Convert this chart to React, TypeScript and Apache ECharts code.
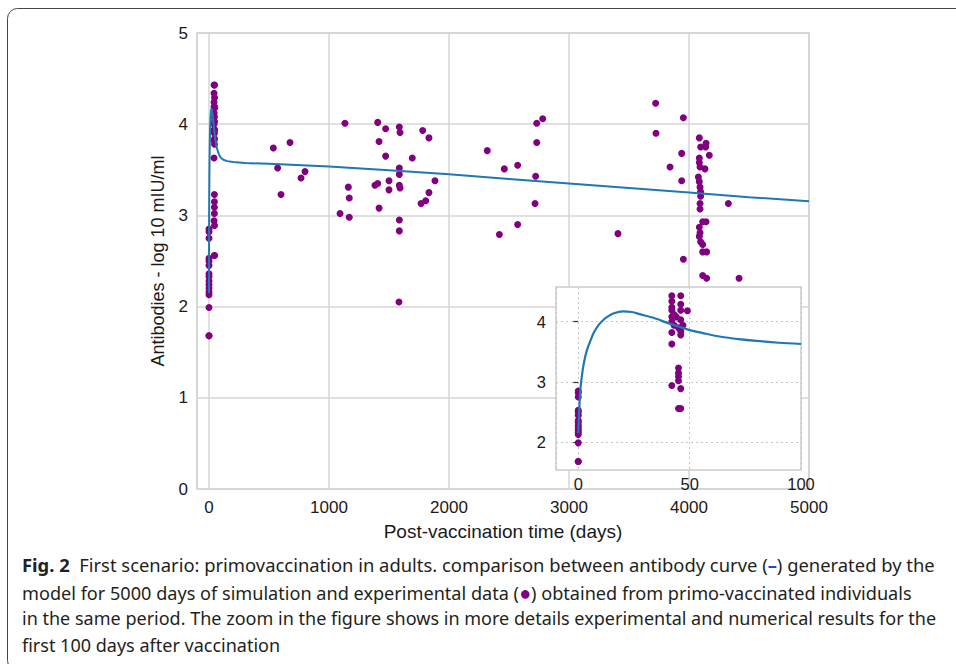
import React, { useEffect, useRef } from "react";
import * as echarts from "echarts";

// Experimental data: day after vaccination, antibody level (log10 mIU/ml)
const pointDays = [
  0, 0, 0, 0, 0, 0, 0, 0, 0, 0, 0, 0, 0, 0, 0, 0,
  42, 46, 42, 46, 42, 42, 46, 49, 43, 42, 44, 46, 42, 43, 47, 45, 46, 42, 46, 42,
  45, 45, 45, 45, 42, 46, 45, 46,
  536, 572, 600, 675, 767, 800,
  1092, 1133, 1161, 1169, 1169,
  1383, 1406, 1406, 1417, 1417, 1472, 1472, 1500, 1500,
  1586, 1592, 1586, 1586, 1586, 1592, 1586, 1586, 1583,
  1694, 1781, 1833, 1883, 1833, 1767, 1806,
  2319, 2420, 2461, 2572, 2572, 2717, 2722, 2731, 2731, 2781,
  3408, 3722, 3725, 3842, 3939, 3939, 3953, 3953, 4328, 4417,
  4086, 4142, 4097, 4139, 4169, 4086, 4086, 4092, 4133, 4078, 4086, 4092, 4097, 4097,
  4092, 4092, 4114, 4142, 4086, 4092, 4086, 4097, 4114, 4114, 4147, 4114, 4147,
];
const pointValues = [
  1.68, 1.68, 1.99, 2.13, 2.16, 2.2, 2.24, 2.28, 2.33, 2.36, 2.45, 2.5, 2.53, 2.75, 2.82, 2.85,
  4.43, 4.43, 4.34, 4.29, 4.24, 4.19, 4.19, 4.18, 4.12, 4.08, 4.08, 4.03, 4.0, 3.94, 3.94, 3.9, 3.84, 3.82, 3.78, 3.63,
  3.23, 3.15, 3.09, 3.02, 2.94, 2.89, 2.56, 2.56,
  3.74, 3.52, 3.23, 3.8, 3.41, 3.48,
  3.02, 4.01, 3.31, 3.19, 2.98,
  3.33, 3.35, 4.02, 3.81, 3.08, 3.95, 3.65, 3.38, 3.28,
  3.97, 3.91, 3.52, 3.45, 3.33, 3.3, 2.95, 2.83, 2.05,
  3.63, 3.93, 3.85, 3.38, 3.25, 3.13, 3.16,
  3.71, 2.79, 3.51, 3.55, 2.9, 3.13, 3.43, 3.8, 4.01, 4.06,
  2.8, 4.23, 3.9, 3.53, 3.68, 3.38, 4.07, 2.52, 3.13, 2.31,
  3.85, 3.79, 3.75, 3.75, 3.66, 3.63, 3.58, 3.53, 3.51, 3.42, 3.37, 3.31, 3.26, 3.21,
  3.13, 3.07, 2.93, 2.93, 2.87, 2.81, 2.77, 2.71, 2.68, 2.6, 2.6, 2.34, 2.31,
];

// Model antibody curve
const curveDays = [
  0, 0.5, 1, 2, 3, 4, 5, 7, 9, 11, 13, 16, 20, 24, 28, 34, 40, 45, 50, 56, 64, 72, 80, 90,
  100, 120, 150, 200, 300, 500, 1000, 1500, 2000, 2500, 3000, 3500, 4000, 4500, 5000,
];
const curveValues = [
  2.15, 2.6, 2.9, 3.2, 3.4, 3.54, 3.64, 3.82, 3.94, 4.02, 4.08, 4.14, 4.17, 4.16, 4.12, 4.06,
  3.98, 3.92, 3.86, 3.81, 3.75, 3.71, 3.68, 3.65,
  3.63, 3.61, 3.595, 3.585, 3.575, 3.565, 3.535, 3.495, 3.45, 3.4, 3.35, 3.3, 3.25, 3.2, 3.155,
];

const captionLines = [
  "{b|Fig. 2}  First scenario: primovaccination in adults. comparison between antibody curve ({blue|–}) generated by the",
  "model for 5000 days of simulation and experimental data ({dot|●}) obtained from primo-vaccinated individuals",
  "in the same period. The zoom in the figure shows in more details experimental and numerical results for the",
  "first 100 days after vaccination",
];

const yAxisTitle = "Antibodies - log 10 mIU/ml";
const xAxisTitle = "Post-vaccination time (days)";

export default function App() {
  const ref = useRef<HTMLDivElement>(null);
  useEffect(() => {
    document.body.style.margin = "0";
    if (!ref.current) return;
    const chart = echarts.init(ref.current, null, { renderer: "svg" });
    const points = pointDays.map((d, i) => [d, pointValues[i]]);
    const curve = curveDays.map((d, i) => [d, curveValues[i]]);
    const insetPoints = points.filter((p) => p[0] <= 100);
    const insetCurve = curve.filter((p) => p[0] <= 100);
    const font = "Liberation Sans";
    const capFont = "Noto Sans";
    const labelColor = "#1a1a1a";
    const plain = (v: number) => String(v);
    const lineScale = [1.0, 0.985, 0.98, 0.98];

    const captionGraphics = captionLines.map((t, i) => ({
      type: "text",
      x: 22,
      y: 555 + i * 27,
      scaleX: lineScale[i],
      z: 10,
      style: {
        text: t,
        fontSize: 18.4,
        fontFamily: capFont,
        fill: "#231f20",
        verticalAlign: "top",
        rich: {
          b: { fontWeight: "bold", fontSize: 18.4, fontFamily: capFont, fill: "#231f20" },
          blue: { fill: "#2244dd", fontWeight: "bold", fontSize: 18.4, fontFamily: capFont },
          dot: { fill: "#800080", fontSize: 20, fontFamily: capFont },
        },
      },
    }));

    chart.setOption({
      animation: false,
      backgroundColor: "#fff",
      textStyle: { fontFamily: font },
      grid: [
        {
          left: 197, top: 33, width: 612, height: 456,
          show: true, borderColor: "#cccccc", borderWidth: 1.5, backgroundColor: "transparent",
        },
        {
          left: 556, top: 287, width: 245, height: 183,
          show: true, borderColor: "#cccccc", borderWidth: 1.5, backgroundColor: "#ffffff", z: 5,
        },
      ],
      xAxis: [
        {
          type: "value", gridIndex: 0, min: -100, max: 5000, minInterval: 1000, maxInterval: 1000,
          name: xAxisTitle, nameLocation: "middle", nameGap: 33,
          nameTextStyle: { fontSize: 19, color: labelColor, fontFamily: font },
          axisLine: { show: false }, axisTick: { show: false },
          axisLabel: { showMinLabel: false, fontSize: 17, color: labelColor, margin: 10, fontFamily: font, formatter: plain },
          splitLine: { show: true, lineStyle: { color: "#d6d6d6", width: 1.5 } },
        },
        {
          type: "value", gridIndex: 1, min: -10, max: 100, minInterval: 50, maxInterval: 50, z: 6,
          axisLine: { show: false }, axisTick: { show: false },
          axisLabel: { showMinLabel: false, fontSize: 16.5, color: labelColor, margin: 5, fontFamily: font, formatter: plain },
          splitLine: { show: true, lineStyle: { color: "#c4c4c4", width: 1, type: [2, 3] } },
        },
      ],
      yAxis: [
        {
          type: "value", gridIndex: 0, min: 0, max: 5, interval: 1,
          name: yAxisTitle, nameLocation: "middle", nameGap: 30, nameRotate: 90,
          nameTextStyle: { fontSize: 18, color: labelColor, fontFamily: font },
          axisLine: { show: false }, axisTick: { show: false },
          axisLabel: { fontSize: 17, color: labelColor, margin: 9, fontFamily: font, formatter: plain },
          splitLine: { show: true, lineStyle: { color: "#d6d6d6", width: 1.5 } },
        },
        {
          type: "value", gridIndex: 1, min: 1.54, max: 4.575, minInterval: 1, maxInterval: 1, z: 6,
          axisLine: { show: false },
          axisTick: { show: true, length: 5, customValues: [2, 3, 4], lineStyle: { color: "#333", width: 1.2 } },
          axisLabel: { showMinLabel: false, showMaxLabel: false, fontSize: 16.5, color: labelColor, margin: 10, fontFamily: font, formatter: plain },
          splitLine: { show: true, lineStyle: { color: "#c4c4c4", width: 1, type: [2, 3] } },
        },
      ],
      series: [
        {
          type: "scatter", xAxisIndex: 0, yAxisIndex: 0, data: points, symbolSize: 7,
          itemStyle: { color: "#800080", opacity: 1 }, z: 2,
        },
        {
          type: "line", xAxisIndex: 0, yAxisIndex: 0, data: curve, showSymbol: false, smooth: false,
          lineStyle: { color: "#1f77b4", width: 2 }, z: 3,
        },
        {
          type: "scatter", xAxisIndex: 1, yAxisIndex: 1, data: insetPoints, symbolSize: 7,
          itemStyle: { color: "#800080", opacity: 1 }, z: 7,
        },
        {
          type: "line", xAxisIndex: 1, yAxisIndex: 1, data: insetCurve, showSymbol: false, smooth: 0.3,
          lineStyle: { color: "#1f77b4", width: 2.2 }, z: 8,
        },
      ],
      graphic: [
        {
          type: "rect",
          shape: { x: 7.5, y: 8.5, width: 1000, height: 662, r: 10 },
          style: { fill: "none", stroke: "#444", lineWidth: 1 },
          z: 10,
        },
        ...captionGraphics,
      ],
    });
    return () => chart.dispose();
  }, []);
  return <div ref={ref} style={{ width: 956, height: 664 }} />;
}
